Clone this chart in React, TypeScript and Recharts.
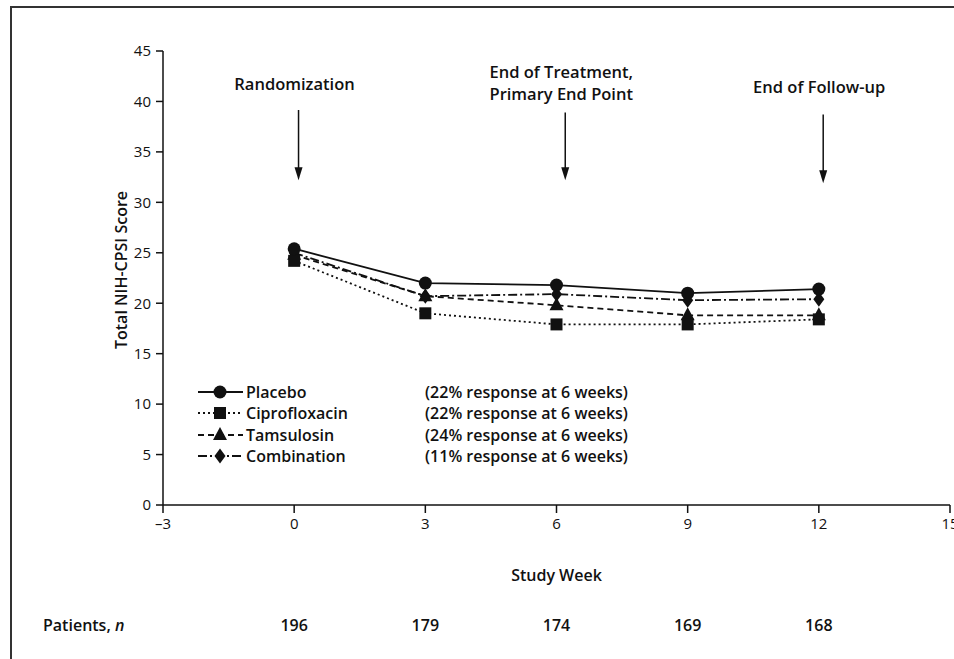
import React from 'react';
import { LineChart, Line, XAxis, YAxis, ReferenceLine, Legend } from 'recharts';

// study weeks with measurements
const weeks = [0, 3, 6, 9, 12];
// mean total NIH-CPSI score per group
const placebo = [25.4, 22.0, 21.8, 21.0, 21.4];
const ciprofloxacin = [24.2, 19.0, 17.9, 17.9, 18.4];
const tamsulosin = [24.8, 20.7, 19.8, 18.8, 18.8];
const combination = [25.0, 20.7, 20.9, 20.3, 20.4];
const patients = [196, 179, 174, 169, 168];
const responses = ['22%', '22%', '24%', '11%'];
const xTicks = [-3, 0, 3, 6, 9, 12, 15];
const yTicks = [0, 5, 10, 15, 20, 25, 30, 35, 40, 45];

const FONT = '"Open Sans", "Noto Sans", sans-serif';
const INK = '#111';

type Kind = 'circle' | 'square' | 'triangle' | 'diamond';

const series: { key: string; name: string; kind: Kind; dash?: string }[] = [
  { key: 'placebo', name: 'Placebo', kind: 'circle' },
  { key: 'ciprofloxacin', name: 'Ciprofloxacin', kind: 'square', dash: '2 3' },
  { key: 'tamsulosin', name: 'Tamsulosin', kind: 'triangle', dash: '6 4' },
  { key: 'combination', name: 'Combination', kind: 'diamond', dash: '9 3 2 3' },
];

const data = weeks.map((w, i) => ({
  week: w,
  placebo: placebo[i],
  ciprofloxacin: ciprofloxacin[i],
  tamsulosin: tamsulosin[i],
  combination: combination[i],
}));

const marker = (kind: Kind, cx: number, cy: number, key?: any) => {
  if (kind === 'circle') return <circle key={key} cx={cx} cy={cy} r={6.5} fill={INK} />;
  if (kind === 'square') return <rect key={key} x={cx - 6} y={cy - 6} width={12} height={12} fill={INK} />;
  if (kind === 'triangle')
    return <polygon key={key} points={`${cx},${cy - 8} ${cx + 7},${cy + 5} ${cx - 7},${cy + 5}`} fill={INK} />;
  return <polygon key={key} points={`${cx},${cy - 7.5} ${cx + 5.5},${cy} ${cx},${cy + 7.5} ${cx - 5.5},${cy}`} fill={INK} />;
};

const dotFor = (kind: Kind) => (props: any) => marker(kind, props.cx, props.cy, props.key ?? props.index);

// arrow with a caption above it
const arrow = (lines: string[], textTop: number) => (props: any) => {
  const { x1, y1, x2, y2 } = props;
  return (
    <g>
      {lines.map((t, i) => (
        <text key={i} x={x1 - 4} y={textTop + i * 22} textAnchor="middle" fontFamily={FONT} fontWeight={600}
          fontSize={16.5} fill={INK}>
          {t}
        </text>
      ))}
      <line x1={x1} y1={y1} x2={x2} y2={y2 - 10} stroke={INK} strokeWidth={1.5} />
      <polygon points={`${x2 - 4},${y2 - 13} ${x2 + 4},${y2 - 13} ${x2},${y2}`} fill={INK} />
    </g>
  );
};

const legendContent = () => (
  <div style={{ fontFamily: FONT, fontWeight: 600, fontSize: 16, color: INK }}>
    {series.map((s, i) => (
      <div key={s.key} style={{ display: 'flex', alignItems: 'center', height: 21.5 }}>
        <svg width={48} height={20} style={{ display: 'block' }}>
          <line x1={2} y1={10} x2={47} y2={10} stroke={INK} strokeWidth={1.8} strokeDasharray={s.dash} />
          {marker(s.kind, 24, 10)}
        </svg>
        <span style={{ width: 179, marginLeft: 2 }}>{s.name}</span>
        <span>({responses[i]} response at 6 weeks)</span>
      </div>
    ))}
  </div>
);

const App = () => {
  return (
    <div style={{ position: 'absolute', left: 0, top: 0, width: 954, height: 659, background: '#fff' }}>
      <div style={{ position: 'absolute', left: 10, top: 6, right: 0, bottom: 0,
        borderTop: '2px solid #333', borderLeft: '2px solid #333' }} />
      <LineChart width={954} height={659} data={data} margin={{ top: 51, right: 4, bottom: 4, left: 103 }}>
        <XAxis dataKey="week" type="number" domain={[-3, 15]} ticks={xTicks} interval={0}
          tickFormatter={(v: number) => (v < 0 ? `–${-v}` : `${v}`)} height={90}
          axisLine={{ stroke: INK, strokeWidth: 1.5 }} tickLine={{ stroke: INK, strokeWidth: 1.5 }}
          tickSize={8} tickMargin={5} tick={{ fontFamily: FONT, fontSize: 15, fill: INK }}
          label={(p: any) => (
            <text x={p.viewBox.x + p.viewBox.width / 2} y={p.viewBox.y + 76} textAnchor="middle"
              fontFamily={FONT} fontWeight={600} fontSize={16} fill={INK}>Study Week</text>
          )} />
        <XAxis xAxisId="n" dataKey="week" type="number" domain={[-3, 15]} ticks={weeks} interval={0}
          height={60} axisLine={false} tickLine={false}
          tick={(p: any) => (
            <text x={p.x} y={p.y + 28} textAnchor="middle" fontFamily={FONT} fontWeight={600} fontSize={16}
              fill={INK}>{patients[weeks.indexOf(p.payload.value)]}</text>
          )}
          label={(p: any) => (
            <text x={43} y={p.viewBox.y + 36} fontFamily={FONT} fontWeight={600} fontSize={16} fill={INK}>
              Patients, <tspan fontStyle="italic">n</tspan>
            </text>
          )} />
        <YAxis type="number" domain={[0, 45]} ticks={yTicks} interval={0} width={60}
          axisLine={{ stroke: INK, strokeWidth: 1.5 }} tickLine={{ stroke: INK, strokeWidth: 1.5 }}
          tickSize={7} tickMargin={5} tick={{ fontFamily: FONT, fontSize: 15, fill: INK }}
          label={() => (
            <text x={127} y={270} transform="rotate(-90 127 270)" textAnchor="middle" fontFamily={FONT}
              fontWeight={600} fontSize={16} fill={INK}>Total NIH-CPSI Score</text>
          )} />
        <ReferenceLine segment={[{ x: 0.1, y: 39.15 }, { x: 0.1, y: 32.2 }]} ifOverflow="visible"
          shape={arrow(['Randomization'], 90)} />
        <ReferenceLine segment={[{ x: 6.2, y: 38.9 }, { x: 6.2, y: 32.2 }]} ifOverflow="visible"
          shape={arrow(['End of Treatment,', 'Primary End Point'], 78)} />
        <ReferenceLine segment={[{ x: 12.1, y: 38.7 }, { x: 12.1, y: 31.9 }]} ifOverflow="visible"
          shape={arrow(['End of Follow-up'], 93)} />
        {series.slice().reverse().map((s) => (
          <Line key={s.key} dataKey={s.key} name={s.name} stroke={INK} strokeWidth={1.8}
            strokeDasharray={s.dash} dot={dotFor(s.kind)} activeDot={false} isAnimationActive={false} />
        ))}
        <Legend layout="vertical" align="center" verticalAlign="middle" content={legendContent}
          wrapperStyle={{ left: 196, top: 381, width: 520 }} />
      </LineChart>
    </div>
  );
};

export default App;
